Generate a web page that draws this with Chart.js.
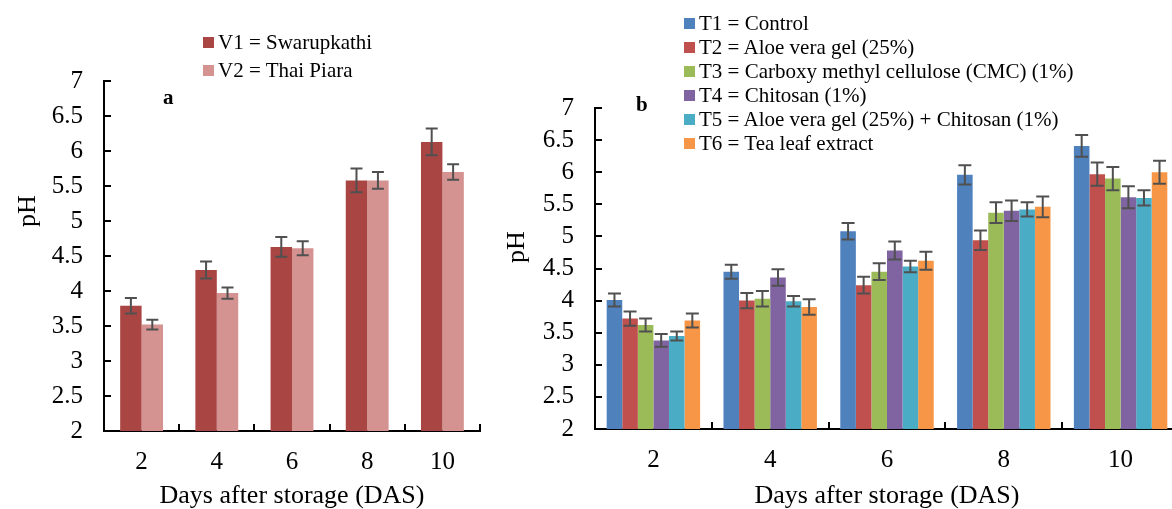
<!DOCTYPE html>
<html>
<head>
<meta charset="utf-8">
<script src="https://cdn.jsdelivr.net/npm/chart.js@4/dist/chart.umd.min.js"></script>
<style>
  html, body { margin: 0; padding: 0; background: #fff; overflow: hidden; width: 1172px; height: 509px; }
  body { position: relative; font-family: 'Liberation Serif', 'Times New Roman', serif; color: #000; }
  .box { position: absolute; top: 0; height: 509px; }
  #box-a { left: 0; width: 500px; }
  #box-b { left: 500px; width: 690px; }
  .legend { position: absolute; font-size: 21px; }
  .legend-row { display: flex; align-items: center; white-space: nowrap; }
  .legend-dot { width: 11px; height: 11px; margin-right: 4px; flex: none; }
  .panel { position: absolute; font-weight: bold; font-size: 21px; line-height: 1; }
  .ylab { position: absolute; width: 100px; height: 30px; line-height: 30px; text-align: center;
          font-size: 26px; transform: rotate(-90deg); }
</style>
</head>
<body>
<div class="box" id="box-a"><canvas id="chart-a"></canvas></div>
<div class="box" id="box-b"><canvas id="chart-b"></canvas></div>

<div class="legend" id="legend-a" style="left:203px; top:28px; line-height:28px;"></div>
<div class="legend" id="legend-b" style="left:684px; top:11px; line-height:24px;"></div>

<div class="panel" style="left:163px; top:87px;">a</div>
<div class="panel" style="left:636px; top:94px;">b</div>

<div class="ylab" style="left:-23px; top:196px;">pH</div>
<div class="ylab" style="left:466px; top:232px;">pH</div>

<script>
// categories and tick labels
const days = ['2', '4', '6', '8', '10'];
const yTicks = [2, 2.5, 3, 3.5, 4, 4.5, 5, 5.5, 6, 6.5, 7];

// panel a: varieties
const varietyNames = ['V1 = Swarupkathi', 'V2 = Thai Piara'];
const varietyColors = ['#A94644', '#D49391'];
const v1 = [3.79, 4.30, 4.63, 5.58, 6.13];
const v1Err = [0.11, 0.12, 0.14, 0.17, 0.19];
const v2 = [3.52, 3.97, 4.61, 5.58, 5.70];
const v2Err = [0.07, 0.08, 0.10, 0.12, 0.11];

// panel b: treatments
const treatNames = [
  'T1 = Control',
  'T2 = Aloe vera gel (25%)',
  'T3 = Carboxy methyl cellulose (CMC) (1%)',
  'T4 = Chitosan (1%)',
  'T5 = Aloe vera gel (25%) + Chitosan (1%)',
  'T6 = Tea leaf extract'
];
const treatColors = ['#4F81BD', '#C0504D', '#9BBB59', '#8064A2', '#4BACC6', '#F79646'];
const t1 = [4.01, 4.45, 5.08, 5.96, 6.41];
const t1Err = [0.10, 0.11, 0.13, 0.15, 0.17];
const t2 = [3.72, 4.00, 4.24, 4.94, 5.97];
const t2Err = [0.11, 0.12, 0.13, 0.15, 0.18];
const t3 = [3.62, 4.03, 4.45, 5.37, 5.90];
const t3Err = [0.10, 0.12, 0.13, 0.16, 0.18];
const t4 = [3.38, 4.36, 4.78, 5.40, 5.61];
const t4Err = [0.10, 0.13, 0.14, 0.16, 0.17];
const t5 = [3.45, 3.99, 4.53, 5.42, 5.60];
const t5Err = [0.07, 0.08, 0.09, 0.11, 0.12];
const t6 = [3.69, 3.90, 4.62, 5.46, 6.00];
const t6Err = [0.11, 0.12, 0.14, 0.16, 0.18];

const FONT = "'Liberation Serif', 'Times New Roman', serif";

// error bars drawn at each bar's centre, from the y scale
const errorBarsPlugin = {
  id: 'errorBars',
  afterDatasetsDraw(chart, args, opts) {
    const { ctx } = chart;
    const yScale = chart.scales.y;
    ctx.save();
    ctx.strokeStyle = opts.color || '#505050';
    ctx.lineWidth = opts.width || 2;
    chart.data.datasets.forEach((ds, i) => {
      const meta = chart.getDatasetMeta(i);
      meta.data.forEach((bar, j) => {
        const v = ds.data[j], e = ds.errors[j];
        const top = yScale.getPixelForValue(v + e);
        const bot = yScale.getPixelForValue(v - e);
        const half = (opts.cap || 12) / 2;
        ctx.beginPath();
        ctx.moveTo(bar.x, top); ctx.lineTo(bar.x, bot);
        ctx.moveTo(bar.x - half, top); ctx.lineTo(bar.x + half, top);
        ctx.moveTo(bar.x - half, bot); ctx.lineTo(bar.x + half, bot);
        ctx.stroke();
      });
    });
    ctx.restore();
  }
};

// inward tick marks, like the spreadsheet axes
const innerTicksPlugin = {
  id: 'innerTicks',
  afterDraw(chart, args, opts) {
    const { ctx, chartArea } = chart;
    const x = chart.scales.x, y = chart.scales.y;
    const len = opts.length || 7;
    ctx.save();
    ctx.strokeStyle = '#000';
    ctx.lineWidth = 2;
    ctx.beginPath();
    y.ticks.forEach(t => {
      const py = Math.round(y.getPixelForValue(t.value));
      ctx.moveTo(chartArea.left, py); ctx.lineTo(chartArea.left + len, py);
    });
    const step = x.getPixelForValue(1) - x.getPixelForValue(0);
    const start = x.getPixelForValue(0) - step / 2;
    for (let i = 0; i <= days.length; i++) {
      const px = Math.round(start + i * step);
      ctx.moveTo(px, chartArea.bottom); ctx.lineTo(px, chartArea.bottom - len);
    }
    ctx.stroke();
    ctx.restore();
  }
};

function renderLegend(targetId, names, colors) {
  document.getElementById(targetId).innerHTML = names.map((n, i) => `
    <div class="legend-row"><span class="legend-dot" style="background:${colors[i]}"></span><span>${n}</span></div>
  `).join('');
}

function drawPanel(canvasId, { datasets, pad, yWidth, xHeight, catPct, cap }) {
  const el = document.getElementById(canvasId);
  return new Chart(el, {
    type: 'bar',
    data: { labels: days, datasets },
    options: {
      responsive: true,
      maintainAspectRatio: false,
      animation: false,
      layout: { padding: pad },
      datasets: { bar: { categoryPercentage: catPct, barPercentage: 1 } },
      plugins: {
        legend: { display: false },
        tooltip: { enabled: false },
        errorBars: { color: '#505050', width: 2, cap },
        innerTicks: { length: 7 }
      },
      scales: {
        x: {
          grid: { display: false, drawTicks: false },
          border: { display: true, color: '#000', width: 2 },
          ticks: { color: '#000', padding: 16, font: { family: FONT, size: 25 } },
          title: {
            display: true, text: 'Days after storage (DAS)', color: '#000',
            font: { family: FONT, size: 26, lineHeight: 1 }, padding: { top: 0, bottom: 0 }
          },
          afterFit: s => { s.height = xHeight; }
        },
        y: {
          min: 2, max: 7,
          grid: { display: false, drawTicks: false },
          border: { display: true, color: '#000', width: 2 },
          afterBuildTicks: s => { s.ticks = yTicks.map(v => ({ value: v })); },
          ticks: {
            color: '#000', padding: 21, autoSkip: false,
            font: { family: FONT, size: 25 }, callback: v => String(v)
          },
          afterFit: s => { s.width = yWidth; }
        }
      }
    },
    plugins: [errorBarsPlugin, innerTicksPlugin]
  });
}

renderLegend('legend-a', varietyNames, varietyColors);
renderLegend('legend-b', treatNames, treatColors);

drawPanel('chart-a', {
  datasets: [
    { label: varietyNames[0], data: v1, errors: v1Err, backgroundColor: varietyColors[0] },
    { label: varietyNames[1], data: v2, errors: v2Err, backgroundColor: varietyColors[1] }
  ],
  pad: { left: 0, right: 20, top: 81, bottom: 0 },
  yWidth: 104, xHeight: 78, catPct: 0.57, cap: 12
});

const tData = [t1, t2, t3, t4, t5, t6];
const tErr = [t1Err, t2Err, t3Err, t4Err, t5Err, t6Err];
drawPanel('chart-b', {
  datasets: treatNames.map((n, i) => ({ label: n, data: tData[i], errors: tErr[i], backgroundColor: treatColors[i] })),
  pad: { left: 0, right: 11, top: 108, bottom: 0 },
  yWidth: 95, xHeight: 80, catPct: 0.8, cap: 13
});
</script>
</body>
</html>
